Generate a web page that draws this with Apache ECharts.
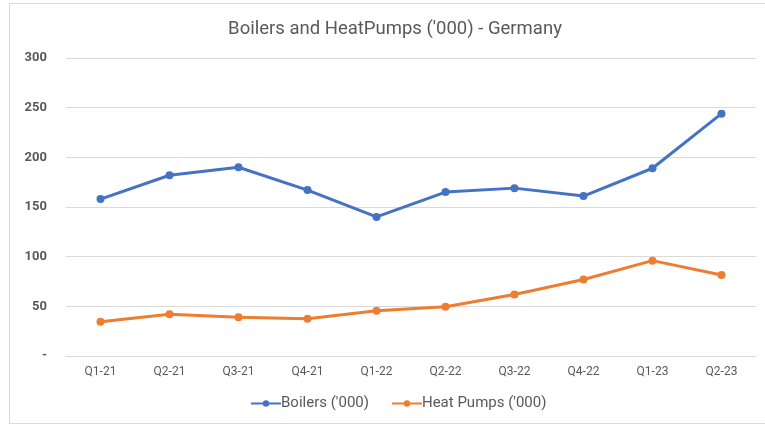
<!DOCTYPE html>
<html>
<head>
<meta charset="utf-8">
<script src="https://cdn.jsdelivr.net/npm/echarts@6/dist/echarts.min.js"></script>
<style>
  html, body { margin: 0; padding: 0; background: #fff; }
  #frame { position: absolute; left: 9px; top: 3px; width: 760px; height: 421px; border: 1px solid #d9d9d9; box-sizing: border-box; }
  #chart { position: absolute; left: 0; top: 0; width: 765px; height: 428px; }
</style>
</head>
<body>
<div id="frame"></div>
<div id="chart"></div>
<script>
var quarters = ["Q1-21", "Q2-21", "Q3-21", "Q4-21", "Q1-22", "Q2-22", "Q3-22", "Q4-22", "Q1-23", "Q2-23"];
var boilers = [158, 182, 190, 167, 140, 165, 169, 161, 189, 244];
var heatPumps = [34.5, 42, 39, 37.5, 45.5, 49.5, 62, 77, 96, 81.5];

var myChart = echarts.init(document.getElementById("chart"));

var option = {
  backgroundColor: "transparent",
  animation: false,
  title: {
    text: "Boilers and HeatPumps ('000) - Germany",
    left: 390,
    textAlign: "center",
    top: 15,
    textStyle: {
      fontFamily: "Roboto, sans-serif",
      fontSize: 18.5,
      fontWeight: "normal",
      color: "#595959",
    },
  },
  grid: {
    left: 66,
    right: 9,
    top: 58,
    bottom: 72,
  },
  legend: {
    bottom: 12,
    left: 245,
    itemWidth: 30,
    itemHeight: 8,
    itemGap: 22,
    textStyle: {
      fontFamily: "Roboto, sans-serif",
      fontSize: 15,
      color: "#595959",
      padding: [0, 0, 0, -5],
    },
    data: ["Boilers ('000)", "Heat Pumps ('000)"],
  },
  xAxis: {
    type: "category",
    data: quarters,
    axisLine: { lineStyle: { color: "#d9d9d9" } },
    axisTick: { show: false },
    axisLabel: {
      color: "#595959",
      fontFamily: "Roboto, sans-serif",
      fontSize: 12,
      margin: 10,
    },
  },
  yAxis: {
    type: "value",
    min: 0,
    max: 300,
    interval: 50,
    axisLine: { show: false },
    axisTick: { show: false },
    splitLine: { lineStyle: { color: "#d9d9d9", width: 1 } },
    axisLabel: {
      color: "#595959",
      fontFamily: "Roboto, sans-serif",
      fontSize: 13,
      fontWeight: "bold",
      margin: 19,
      formatter: function (v) {
        return v === 0 ? "-" : v;
      },
    },
  },
  series: [
    {
      name: "Boilers ('000)",
      type: "line",
      data: boilers,
      symbol: "circle",
      symbolSize: 8,
      itemStyle: { color: "#4472c4" },
      lineStyle: { width: 3, color: "#4472c4" },
    },
    {
      name: "Heat Pumps ('000)",
      type: "line",
      data: heatPumps,
      symbol: "circle",
      symbolSize: 8,
      itemStyle: { color: "#ed7d31" },
      lineStyle: { width: 3, color: "#ed7d31" },
    },
  ],
};

myChart.setOption(option);
</script>
</body>
</html>
